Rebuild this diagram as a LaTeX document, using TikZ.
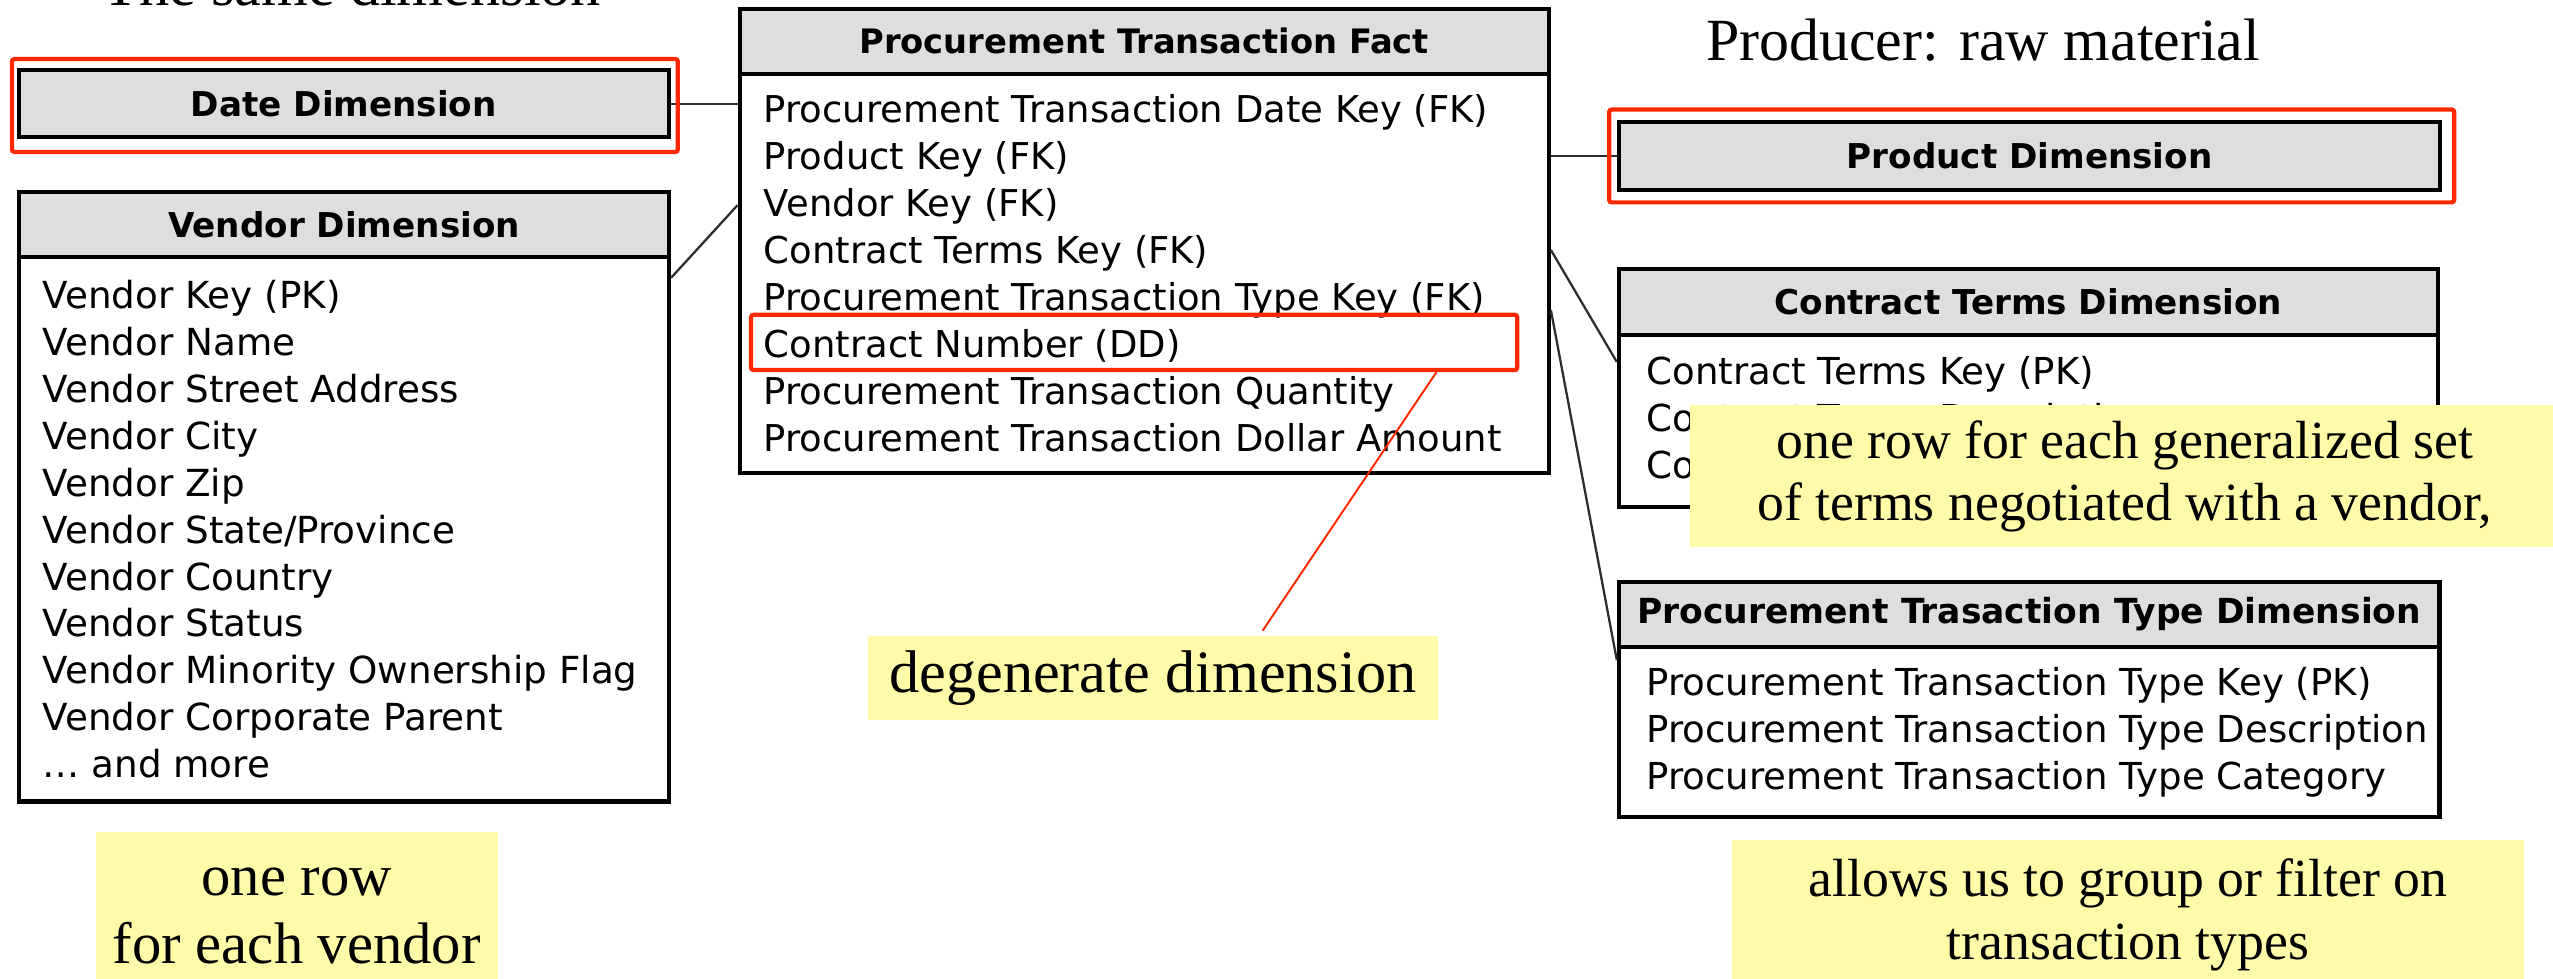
\documentclass[tikz,border=0pt]{standalone}
\usepackage{fontspec}
\setmainfont{Liberation Serif}
\setsansfont{DejaVu Sans}
\usetikzlibrary{calc}
\definecolor{hdrgray}{RGB}{222,222,222}
\definecolor{notey}{RGB}{255,251,168}
\definecolor{hlred}{RGB}{255,40,0}
\definecolor{linkgray}{RGB}{45,45,45}
\begin{document}
\begin{tikzpicture}[x=1pt,y=-1pt,
  tbl/.style={draw=black, line width=2.5pt, inner sep=0pt, anchor=north west},
  hdr/.style={tbl, fill=hdrgray, font=\sffamily\bfseries\fontsize{21}{25}\selectfont},
  rows/.style={tbl, fill=white},
  items/.style={anchor=west, align=left, inner sep=0pt},
  note/.style={fill=notey, inner sep=0pt, align=center},
  hl/.style={draw=hlred, line width=2.6pt, rounded corners=1.5pt, inner sep=0pt, anchor=north west},
  link/.style={draw=linkgray, line width=1.4pt},
  call/.style={draw=hlred, line width=1.2pt},
  title/.style={anchor=base, inner sep=0pt}
]
\useasboundingbox (0,0) rectangle (1568,601);

% titles (partly cut by the top edge)
\node[title, font=\fontsize{37}{40}\selectfont] (same) at (216,3.5) {The same dimension};
\node[title, font=\fontsize{36.8}{40}\selectfont] (prodtxt) at (1218,37) {Producer: raw material};

% Date dimension
\node[hdr, minimum width=399pt, minimum height=41pt] (dateh) at (10.4,42) {Date Dimension};

% Vendor dimension
\node[hdr, minimum width=399.3pt, minimum height=40pt] (vendh) at (10.4,116.7) {Vendor Dimension};
\node[rows, minimum width=399.3pt, minimum height=334.4pt] (vendb) at (10.4,156.6) {};
\node[items, font=\sffamily\fontsize{22.9}{28.8}\selectfont] (vendi) at ([xshift=15.5pt]vendb.west)
 {Vendor Key (PK)\\Vendor Name\\Vendor Street Address\\Vendor City\\Vendor Zip\\Vendor State/Province\\Vendor Country\\Vendor Status\\Vendor Minority Ownership Flag\\Vendor Corporate Parent\\… and more};

% Fact table
\node[hdr, font=\sffamily\bfseries\fontsize{20.7}{25}\selectfont, minimum width=497pt, minimum height=40pt] (facth) at (453,4) {Procurement Transaction Fact};
\node[rows, minimum width=497pt, minimum height=245pt] (factb) at (453,44) {};
\node[items, font=\sffamily\fontsize{22.7}{28.85}\selectfont] (facti) at ([xshift=16pt]factb.west)
 {Procurement Transaction Date Key (FK)\\Product Key (FK)\\Vendor Key (FK)\\Contract Terms Key (FK)\\Procurement Transaction Type Key (FK)\\Contract Number (DD)\\Procurement Transaction Quantity\\Procurement Transaction Dollar Amount};

% Product dimension
\node[hdr, minimum width=504.5pt, minimum height=42pt] (prodh) at (993,73.7) {Product Dimension};

% Contract terms dimension
\node[hdr, minimum width=503pt, minimum height=40.5pt] (cth) at (993,164) {Contract Terms Dimension};
\node[rows, minimum width=503pt, minimum height=105.5pt] (ctb) at (993,204.5) {};
\node[items, font=\sffamily\fontsize{22.8}{28.85}\selectfont] (cti) at ([xshift=18pt]ctb.west)
 {Contract Terms Key (PK)\\Contract Terms Description\\Contract Terms Type};

% Procurement transaction type dimension
\node[hdr, font=\sffamily\bfseries\fontsize{21.2}{25}\selectfont, minimum width=504pt, minimum height=40pt] (ptth) at (993,356) {Procurement Trasaction Type Dimension};
\node[rows, minimum width=504pt, minimum height=104.6pt] (pttb) at (993,396) {};
\node[items, font=\sffamily\fontsize{22.8}{28.85}\selectfont] (ptti) at ([xshift=18pt]pttb.west)
 {Procurement Transaction Type Key (PK)\\Procurement Transaction Type Description\\Procurement Transaction Type Category};

% connectors
\draw[link] (dateh.east) -- (dateh.east -| factb.west);
\draw[link] ([yshift=-14pt]vendb.north east) -- ([yshift=-82pt]factb.north west);
\draw[link] (prodh.west -| factb.east) -- (prodh.west);
\draw[link] ([yshift=-109.5pt]factb.north east) -- ([yshift=-17.8pt]ctb.north west);
\draw[link] ([yshift=-146.4pt]factb.north east) -- ([yshift=-9.4pt]pttb.north west);

% red highlights
\node[hl, minimum width=409pt, minimum height=57pt] (datehl) at (6,35) {};
\node[hl, minimum width=519pt, minimum height=57pt] (prodhl) at (987,66) {};
\node[hl, minimum width=470.5pt, minimum height=34pt] (cnum) at (460,192) {};

% notes
\node[note, font=\fontsize{36}{41.5}\selectfont, minimum width=246.7pt, minimum height=103.8pt] (vnote) at (182.3,562.7) {one row\\for each vendor};
\node[note, font=\fontsize{37}{40}\selectfont, minimum width=350pt, minimum height=52pt] (dnote) at (708,416.5) {degenerate dimension};
\node[note, font=\fontsize{33}{38}\selectfont, minimum width=534pt, minimum height=87.3pt] (cnote) at (1305,292.4) {one row for each generalized set\\of terms negotiated with a vendor,};
\node[note, font=\fontsize{33}{39}\selectfont, minimum width=486pt, minimum height=91.6pt] (pnote) at (1307,561.8) {allows us to group or filter on\\transaction types};

\draw[call] ([xshift=-50.9pt]cnum.south east) -- ([xshift=67.5pt,yshift=3pt]dnote.north);
\end{tikzpicture}
\end{document}
